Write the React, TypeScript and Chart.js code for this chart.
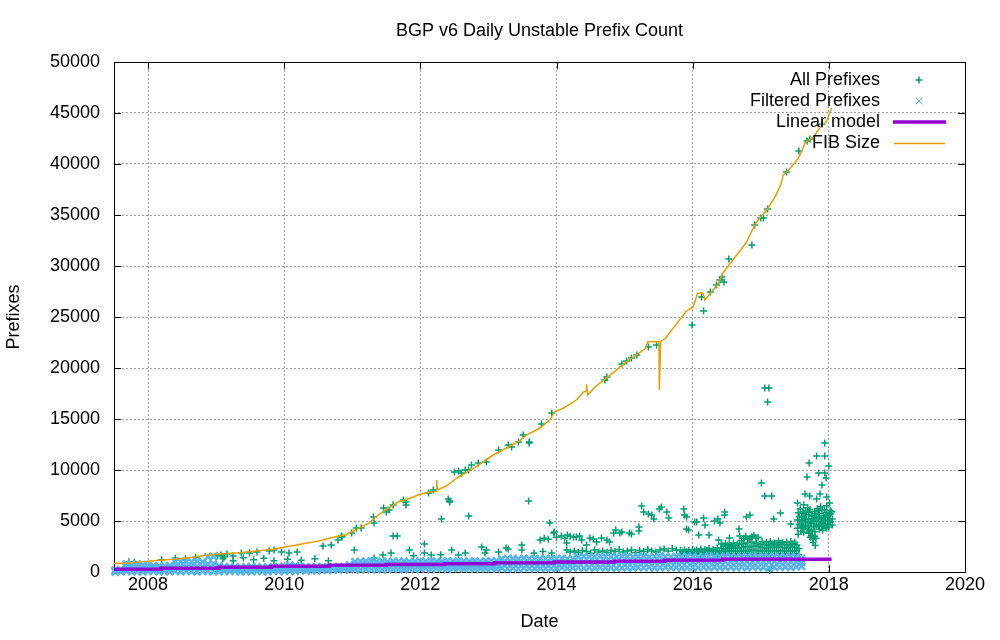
import React, { useEffect, useRef } from 'react';
import { Chart, registerables } from 'chart.js';

Chart.register(...registerables);

const FONT = '"Liberation Sans", Arial, sans-serif';

const chartTitle = 'BGP v6 Daily Unstable Prefix Count';
const xTitle = 'Date';
const yTitle = 'Prefixes';
const xTicks = [2008, 2010, 2012, 2014, 2016, 2018, 2020];
const yTicks = [0, 5000, 10000, 15000, 20000, 25000, 30000, 35000, 40000, 45000, 50000];
const legendLabels = ['All Prefixes', 'Filtered Prefixes', 'Linear model', 'FIB Size'];

// FIB size (orange line)
const fibDates = [2007.5, 2007.68, 2007.87, 2008.07, 2008.37, 2008.6, 2008.85, 2009.04, 2009.34, 2009.59, 2009.84, 2010.03, 2010.18, 2010.32, 2010.51, 2010.72, 2010.91, 2011.09, 2011.24, 2011.38, 2011.53, 2011.68, 2011.78, 2011.97, 2012.15, 2012.235, 2012.24, 2012.25, 2012.38, 2012.53, 2012.78, 2013.07, 2013.26, 2013.46, 2013.56, 2013.75, 2013.9, 2013.97, 2014.1, 2014.29, 2014.4, 2014.435, 2014.44, 2014.46, 2014.57, 2014.82, 2015.01, 2015.31, 2015.34, 2015.46, 2015.505, 2015.51, 2015.53, 2015.6, 2015.9, 2016.01, 2016.07, 2016.15, 2016.18, 2016.38, 2016.44, 2016.59, 2016.78, 2016.93, 2017.1, 2017.22, 2017.3, 2017.33, 2017.43, 2017.55, 2017.6, 2017.65, 2017.78, 2017.87, 2017.97, 2018.04];
const fibCounts = [850, 860, 980, 1110, 1245, 1400, 1640, 1765, 1890, 2060, 2230, 2480, 2650, 2810, 3040, 3400, 3660, 4280, 4770, 5590, 6250, 6890, 7060, 7550, 7870, 7900, 9020, 8040, 8430, 9190, 10170, 11470, 12130, 12870, 13430, 14090, 14900, 15720, 16050, 16860, 17680, 17700, 18430, 17350, 18170, 19480, 20520, 21930, 22580, 22580, 22600, 17840, 22600, 22910, 25520, 26010, 27320, 27380, 26670, 28300, 29280, 30590, 32230, 34250, 35590, 36900, 38070, 38920, 39560, 40560, 41230, 42060, 42720, 43550, 44220, 45500];

// Linear model (purple step line)
const modelDates = [2007.5, 2008.19, 2009.04, 2009.81, 2010.66, 2011.5, 2012.35, 2013.09, 2013.96, 2014.85, 2015.59, 2016.44, 2017.31, 2018.04];
const modelCounts = [170, 260, 360, 470, 560, 650, 740, 820, 900, 980, 1060, 1150, 1250, 1250];

// Filtered prefixes (light blue x), sampled days: low / mid / high values
const filteredDates = [
  2007.52, 2007.6, 2007.68, 2007.76, 2007.84, 2007.92,
  2008.0, 2008.08, 2008.16, 2008.24, 2008.32, 2008.4, 2008.48, 2008.56, 2008.64, 2008.72, 2008.8, 2008.88, 2008.96,
  2009.04, 2009.12, 2009.2, 2009.28, 2009.36, 2009.44, 2009.52, 2009.6, 2009.68, 2009.76, 2009.84, 2009.92,
  2010.0, 2010.08, 2010.16, 2010.24, 2010.32, 2010.4, 2010.48, 2010.56, 2010.64, 2010.72, 2010.8, 2010.88, 2010.96,
  2011.04, 2011.12, 2011.2, 2011.28, 2011.36, 2011.44, 2011.52, 2011.6, 2011.68, 2011.76, 2011.84, 2011.92,
  2012.0, 2012.08, 2012.16, 2012.24, 2012.32, 2012.4, 2012.48, 2012.56, 2012.64, 2012.72, 2012.8, 2012.88, 2012.96,
  2013.04, 2013.12, 2013.2, 2013.28, 2013.36, 2013.44, 2013.52, 2013.6, 2013.68, 2013.76, 2013.84, 2013.92,
  2014.0, 2014.08, 2014.16, 2014.24, 2014.32, 2014.4, 2014.48, 2014.56, 2014.64, 2014.72, 2014.8, 2014.88, 2014.96,
  2015.04, 2015.12, 2015.2, 2015.28, 2015.36, 2015.44, 2015.52, 2015.6, 2015.68, 2015.76, 2015.84, 2015.92,
  2016.0, 2016.08, 2016.16, 2016.24, 2016.32, 2016.4, 2016.48, 2016.56, 2016.64, 2016.72, 2016.8, 2016.88, 2016.96,
  2017.04, 2017.12, 2017.2, 2017.28, 2017.36, 2017.44, 2017.52, 2017.6,
];
const filteredLow = [
  0, 40, 80, 30, 60, 20,
  50, 90, 20, 70, 40, 100, 30, 80, 60, 10, 90, 50, 70,
  30, 80, 50, 100, 20, 70, 40, 90, 60, 30, 110, 50,
  80, 120, 60, 150, 100, 170, 130, 200, 150, 220, 180, 240, 200,
  260, 220, 290, 240, 270, 210, 300, 250, 280, 230, 310, 260,
  300, 340, 280, 320, 360, 290, 330, 370, 310, 350, 290, 340, 320,
  350, 310, 380, 340, 370, 320, 390, 350, 330, 380, 360, 340,
  380, 420, 360, 400, 440, 390, 430, 410, 450, 400, 430, 380, 420,
  430, 400, 450, 420, 460, 410, 440, 470, 420, 450, 400, 440,
  450, 420, 470, 440, 480, 430, 460, 490, 440, 470, 430, 480, 450,
  470, 440, 490, 460, 500, 450, 520, 560,
];
const filteredMid = [
  90, 140, 450, 430, 420, 370,
  340, 350, 320, 330, 340, 560, 530, 560, 540, 530, 560, 780, 800,
  320, 310, 280, 320, 260, 290, 300, 300, 270, 280, 310, 290,
  310, 400, 360, 340, 300, 350, 320, 370, 330, 350, 360, 380, 460,
  640, 650, 670, 660, 650, 640, 660, 670, 660, 650, 670, 660,
  690, 700, 680, 690, 710, 700, 690, 720, 690, 700, 690, 700, 700,
  720, 710, 840, 840, 850, 810, 870, 830, 830, 840, 850, 830,
  850, 880, 840, 870, 970, 960, 980, 960, 1000, 970, 960, 950, 980,
  970, 950, 990, 970, 980, 960, 990, 990, 960, 990, 960, 990,
  990, 960, 990, 990, 990, 970, 1000, 1010, 970, 990, 980, 1000, 990,
  990, 970, 1010, 990, 1000, 990, 990, 940,
];
const filteredHigh = [
  180, 240, 800, 820, 780, 700,
  620, 590, 610, 580, 630, 980, 1020, 1010, 990, 1040, 1000, 1480, 1520,
  600, 520, 480, 510, 470, 500, 530, 490, 460, 510, 480, 500,
  520, 660, 640, 520, 480, 510, 490, 530, 500, 470, 520, 500, 700,
  1000, 1050, 1030, 1060, 1020, 1040, 1010, 1060, 1030, 1050, 1020, 1040,
  1060, 1040, 1070, 1030, 1050, 1080, 1040, 1060, 1050, 1030, 1070, 1050, 1060,
  1080, 1100, 1290, 1320, 1310, 1280, 1330, 1300, 1310, 1290, 1320, 1300,
  1310, 1330, 1300, 1320, 1480, 1520, 1500, 1490, 1530, 1510, 1480, 1500, 1520,
  1500, 1490, 1520, 1510, 1480, 1500, 1530, 1500, 1490, 1510, 1500, 1520,
  1510, 1490, 1500, 1520, 1480, 1500, 1530, 1510, 1490, 1500, 1520, 1500, 1510,
  1500, 1490, 1520, 1500, 1480, 1510, 1450, 1300,
];

// All prefixes (green +)
const allNearFib: [number, number][] = [
  [2009.07, 1670], [2009.16, 1760], [2009.25, 1570], [2009.37, 1860], [2009.49, 1860], [2009.6, 1960], [2009.78, 2060], [2009.85, 2160], [2009.96, 1960], [2010.07, 1860], [2010.19, 1960], [2010.57, 2550], [2010.69, 2650], [2010.79, 3140], [2010.85, 3430], [2010.84, 3530], [2010.99, 3820], [2011.06, 4310], [2011.13, 4310], [2011.31, 5390], [2011.32, 4800], [2011.46, 6270], [2011.5, 5880], [2011.54, 6080], [2011.6, 6570], [2011.75, 7060], [2011.79, 6860], [2011.79, 6570],
  [2012.12, 7750], [2012.19, 8040], [2012.41, 7160], [2012.43, 6860], [2012.5, 9800], [2012.56, 9900], [2012.6, 9710], [2012.66, 10000], [2012.71, 10000], [2012.75, 10490], [2012.85, 10690], [2012.97, 10780], [2013.15, 11960], [2013.29, 12450], [2013.34, 12250], [2013.44, 12750], [2013.51, 13430], [2013.6, 12750], [2013.6, 12650], [2013.78, 14510], [2013.93, 15590],
  [2014.71, 18820], [2014.74, 19120], [2014.96, 20390], [2015.03, 20690], [2015.1, 20980], [2015.18, 21270], [2015.35, 22060], [2015.47, 22250], [2015.99, 24220], [2016.16, 25590], [2016.13, 26960], [2016.26, 27450], [2016.35, 28140], [2016.4, 28630], [2016.43, 28920], [2016.46, 28430], [2016.53, 30690], [2016.87, 32060], [2016.91, 34020], [2017.0, 34710], [2017.04, 34710], [2017.1, 35590], [2017.38, 39220], [2017.56, 41270], [2017.68, 42250], [2017.72, 42450], [2017.9, 43920],
];
const allScattered: [number, number][] = [
  [2011.03, 2160], [2011.6, 3530], [2011.66, 3530], [2011.84, 2160], [2012.06, 2750], [2012.31, 5200], [2012.43, 6960], [2012.71, 5490], [2013.59, 6960], [2013.9, 4800], [2013.96, 3820], [2013.97, 3920], [2013.76, 3140],
  [2013.82, 3300], [2013.88, 3200], [2014.0, 3400], [2014.12, 3300], [2014.2, 3500],
  [2014.07, 3530], [2014.16, 3630], [2014.25, 3430], [2014.34, 3530], [2014.15, 2840], [2014.15, 2160], [2014.29, 3430], [2014.37, 3140], [2014.44, 2650], [2014.49, 3330], [2014.54, 3240], [2014.59, 2940], [2014.66, 3330], [2014.74, 3140], [2014.78, 2940], [2014.84, 3820], [2014.87, 4120], [2014.93, 3820], [2014.96, 3920], [2015.07, 3820], [2015.1, 3730], [2015.21, 4410], [2015.21, 4020],
  [2015.25, 6470], [2015.28, 5880], [2015.35, 5690], [2015.4, 5590], [2015.43, 5200], [2015.51, 6180], [2015.54, 6370], [2015.62, 5880], [2015.65, 5290], [2015.87, 6180], [2015.88, 5590], [2015.91, 5390], [2015.91, 4220], [2015.94, 4120], [2016.03, 4900], [2016.06, 4900], [2016.09, 3630], [2016.16, 5290], [2016.18, 4610], [2016.32, 5000], [2016.37, 5200], [2016.4, 4800], [2016.47, 5880], [2016.47, 5590], [2016.68, 4220], [2016.79, 5390], [2016.84, 5590],
  [2017.01, 8730], [2017.06, 7450], [2017.16, 7450], [2017.29, 5780], [2017.19, 5200], [2017.44, 4710], [2017.06, 18040], [2017.12, 18040], [2017.1, 16670], [2016.24, 3630], [2016.38, 3140], [2016.54, 3330], [2016.69, 3530], [2017.13, 150], [2017.16, 320],
];
const allLowBand: [number, number][] = [
  [2007.72, 1000], [2007.8, 950], [2008.2, 1200], [2008.4, 1350], [2008.55, 1300], [2008.7, 1450], [2009.02, 1600], [2009.12, 1500], [2009.1, 1300], [2009.25, 1100], [2009.4, 1400], [2009.55, 1200], [2009.7, 1350], [2009.85, 1100], [2010.05, 1250], [2010.25, 1150], [2010.45, 1300], [2010.65, 1100],
  [2011.32, 1370], [2011.45, 1670], [2011.57, 1860], [2011.9, 1600], [2012.06, 1860], [2012.16, 1670], [2012.3, 1700], [2012.46, 2160], [2012.56, 1670], [2012.66, 1860], [2012.9, 2450], [2012.95, 1860], [2012.97, 2160], [2013.15, 1960], [2013.26, 2350], [2013.29, 2260], [2013.49, 2650], [2013.49, 2160], [2013.67, 1860], [2013.8, 2000], [2013.93, 1860],
];
const allBand: [number, number][] = [
  [2014.2, 1950], [2014.26, 2050], [2014.32, 1900], [2014.38, 2100], [2014.44, 2000], [2014.5, 1850], [2014.56, 2150], [2014.62, 1950], [2014.68, 2050], [2014.74, 1900], [2014.8, 2100], [2014.86, 2000], [2014.92, 2200], [2014.98, 1950], [2015.04, 2050], [2015.1, 2150], [2015.16, 1900], [2015.22, 2100], [2015.28, 2000], [2015.34, 2200], [2015.4, 2050], [2015.46, 1950], [2015.52, 2150], [2015.58, 2250], [2015.64, 2050], [2015.7, 2300], [2015.76, 2150],
  [2015.82, 1750], [2015.82, 2100], [2015.88, 1800], [2015.88, 2150], [2015.94, 1700], [2015.94, 2100], [2016.0, 1750], [2016.0, 2200], [2016.06, 1800], [2016.06, 2150], [2016.12, 1700], [2016.12, 2250], [2016.18, 1750], [2016.18, 2200], [2016.24, 1800], [2016.24, 2300], [2016.3, 1700], [2016.3, 2200], [2016.36, 1750], [2016.36, 2350],
  [2016.42, 1800], [2016.42, 2300], [2016.42, 2750], [2016.48, 1700], [2016.48, 2250], [2016.48, 2800], [2016.54, 1750], [2016.54, 2350], [2016.54, 2700], [2016.6, 1800], [2016.6, 2300], [2016.6, 2850], [2016.66, 1700], [2016.66, 2350], [2016.66, 2750],
  [2016.72, 1750], [2016.72, 2400], [2016.72, 3100], [2016.78, 1800], [2016.78, 2500], [2016.78, 3500], [2016.84, 1700], [2016.84, 2450], [2016.84, 3300], [2016.9, 1750], [2016.9, 2550], [2016.9, 3600], [2016.96, 1800], [2016.96, 2500], [2016.96, 3400],
  [2017.02, 1700], [2017.02, 2400], [2017.02, 3000], [2017.08, 1750], [2017.08, 2350], [2017.08, 2900], [2017.14, 1800], [2017.14, 2450], [2017.14, 3000], [2017.2, 1700], [2017.2, 2400], [2017.2, 2850], [2017.26, 1750], [2017.26, 2450], [2017.26, 3050],
  [2017.32, 1800], [2017.32, 2400], [2017.32, 2900], [2017.38, 1700], [2017.38, 2350], [2017.38, 2950], [2017.44, 1750], [2017.44, 2450], [2017.44, 3000], [2017.5, 1800], [2017.5, 2400], [2017.5, 2900], [2017.56, 1700], [2017.56, 2300],
];
const allBandFill: [number, number][] = [
  [2015.85, 1950], [2015.91, 2000], [2015.97, 1900], [2016.03, 2050], [2016.09, 2000], [2016.15, 1950], [2016.21, 2100], [2016.27, 2000], [2016.33, 2050], [2016.39, 1950],
  [2016.45, 2050], [2016.45, 2550], [2016.51, 2000], [2016.51, 2600], [2016.57, 2100], [2016.57, 2500], [2016.63, 2000], [2016.63, 2600], [2016.69, 2050], [2016.69, 2700],
  [2016.75, 2100], [2016.75, 2800], [2016.75, 3300], [2016.81, 2050], [2016.81, 2900], [2016.81, 3200], [2016.87, 2150], [2016.87, 2950], [2016.87, 3450], [2016.93, 2100], [2016.93, 2850], [2016.93, 3300],
  [2016.99, 2050], [2016.99, 2700], [2017.05, 2100], [2017.05, 2700], [2017.11, 2050], [2017.11, 2650], [2017.17, 2100], [2017.17, 2750], [2017.23, 2050], [2017.23, 2650], [2017.29, 2100], [2017.29, 2750],
  [2017.35, 2050], [2017.35, 2700], [2017.41, 2100], [2017.41, 2650], [2017.47, 2050], [2017.47, 2750], [2017.53, 2100], [2017.53, 2650],
];
const allLateCluster: [number, number][] = [
  [2017.94, 12650], [2017.82, 11370], [2017.94, 11370], [2017.71, 10690], [2018.0, 10390], [2017.68, 9310], [2017.85, 9710], [2017.94, 9710], [2017.9, 8530], [2017.96, 9220], [2017.65, 7650], [2017.72, 7450], [2017.82, 7160], [2017.87, 7650], [2017.97, 7350], [2018.01, 6760], [2017.54, 6760],
  [2017.54, 4300], [2017.54, 5100], [2017.55, 5800], [2017.55, 3700], [2017.59, 4000], [2017.59, 4700], [2017.6, 5400], [2017.58, 6200], [2017.63, 3900], [2017.63, 4500], [2017.64, 5200], [2017.62, 5900], [2017.63, 6600],
  [2017.68, 4200], [2017.68, 4900], [2017.67, 5600], [2017.69, 6300], [2017.73, 3400], [2017.72, 4100], [2017.73, 4800], [2017.74, 5500], [2017.72, 6100], [2017.77, 2900], [2017.76, 3600], [2017.78, 4400], [2017.77, 5200], [2017.79, 5900],
  [2017.8, 2600], [2017.81, 3300], [2017.82, 4600], [2017.82, 5400], [2017.83, 6200], [2017.86, 4200], [2017.87, 4900], [2017.86, 5700], [2017.88, 6400], [2017.91, 4100], [2017.91, 4800], [2017.92, 5500], [2017.9, 6100],
  [2017.96, 4300], [2017.95, 5000], [2017.96, 5800], [2017.97, 6500], [2018.0, 4400], [2018.01, 5100], [2018.0, 5600], [2018.02, 6000], [2018.05, 4600], [2018.05, 5200], [2018.04, 5900],
];
const allLateFill: [number, number][] = [
  [2017.565, 4650], [2017.565, 5450], [2017.61, 4350], [2017.61, 5050], [2017.61, 5750], [2017.655, 4550], [2017.655, 5250], [2017.655, 5950], [2017.705, 3800], [2017.705, 4500], [2017.705, 5200], [2017.705, 5850],
  [2017.75, 4000], [2017.75, 4750], [2017.75, 5550], [2017.795, 3950], [2017.795, 5000], [2017.795, 5700], [2017.845, 4500], [2017.845, 5300], [2017.845, 6000], [2017.89, 4450], [2017.89, 5200],
  [2017.935, 4600], [2017.935, 5350], [2017.935, 6100], [2017.98, 4700], [2017.98, 5450], [2018.025, 4900], [2018.025, 5700], [2017.76, 3200], [2017.79, 3500],
];

const GREEN = '#009e73';
const BLUE = '#56b4e9';
const PURPLE = '#9400d3';
const ORANGE = '#e69f00';

const gnuplotDecor = {
  id: 'gnuplotDecor',
  beforeDatasetsDraw(chart: any) {
    const { ctx, chartArea: a, scales } = chart;
    ctx.save();
    ctx.strokeStyle = '#000';
    ctx.lineWidth = 1;
    ctx.setLineDash([]);
    const L = 7;
    ctx.beginPath();
    for (const v of yTicks) {
      const y = Math.round(scales.y.getPixelForValue(v)) + 0.5;
      ctx.moveTo(a.left, y); ctx.lineTo(a.left + L, y);
      ctx.moveTo(a.right, y); ctx.lineTo(a.right - L, y);
    }
    for (const v of xTicks) {
      const x = Math.round(scales.x.getPixelForValue(v)) + 0.5;
      ctx.moveTo(x, a.bottom); ctx.lineTo(x, a.bottom - L);
      ctx.moveTo(x, a.top); ctx.lineTo(x, a.top + L);
    }
    ctx.stroke();
    ctx.strokeRect(Math.round(a.left) + 0.5, Math.round(a.top) + 0.5, Math.round(a.right - a.left), Math.round(a.bottom - a.top));
    ctx.restore();
  },
  afterDraw(chart: any) {
    const { ctx, chartArea: a } = chart;
    ctx.save();
    ctx.fillStyle = '#000';
    ctx.font = `18px ${FONT}`;
    ctx.textAlign = 'center';
    ctx.textBaseline = 'middle';
    ctx.fillText(chartTitle, (a.left + a.right) / 2, 31);
    // legend
    const rows = [80, 101, 122, 143];
    ctx.textAlign = 'right';
    legendLabels.forEach((t, i) => ctx.fillText(t, 880, rows[i]));
    ctx.lineWidth = 1.4;
    ctx.strokeStyle = GREEN;
    ctx.beginPath();
    ctx.moveTo(915.5, rows[0]); ctx.lineTo(922.5, rows[0]);
    ctx.moveTo(919, rows[0] - 3.5); ctx.lineTo(919, rows[0] + 3.5);
    ctx.stroke();
    ctx.lineWidth = 1;
    ctx.strokeStyle = BLUE;
    ctx.beginPath();
    ctx.moveTo(915.7, rows[1] - 3.3); ctx.lineTo(922.3, rows[1] + 3.3);
    ctx.moveTo(922.3, rows[1] - 3.3); ctx.lineTo(915.7, rows[1] + 3.3);
    ctx.stroke();
    ctx.strokeStyle = PURPLE;
    ctx.lineWidth = 3.5;
    ctx.beginPath(); ctx.moveTo(893, rows[2]); ctx.lineTo(946, rows[2]); ctx.stroke();
    ctx.strokeStyle = ORANGE;
    ctx.lineWidth = 1.5;
    ctx.beginPath(); ctx.moveTo(894, rows[3] + 0.5); ctx.lineTo(945, rows[3] + 0.5); ctx.stroke();
    ctx.restore();
  },
};

export default function App() {
  const ref = useRef<HTMLCanvasElement | null>(null);
  useEffect(() => {
    document.body.style.margin = '0';
    const toPts = (arr: [number, number][]) => arr.map(([x, y]) => ({ x, y }));
    const allData = [...toPts(allLowBand), ...toPts(allBand), ...toPts(allBandFill), ...toPts(allScattered), ...toPts(allNearFib), ...toPts(allLateCluster), ...toPts(allLateFill)];
    const filteredData = filteredDates.flatMap((d, i) => [
      { x: d, y: filteredLow[i] },
      { x: d, y: filteredMid[i] },
      { x: d, y: filteredHigh[i] },
    ]);
    const modelData = modelDates.map((x, i) => ({ x, y: modelCounts[i] }));
    const fibData = fibDates.map((x, i) => ({ x, y: fibCounts[i] }));
    const tickFont = { family: FONT, size: 18 };
    const chart = new Chart(ref.current as HTMLCanvasElement, {
      type: 'scatter',
      data: {
        datasets: [
          { label: legendLabels[0], data: allData, pointStyle: 'cross', pointRadius: 3.5, borderColor: GREEN, backgroundColor: GREEN, borderWidth: 1.5, order: 4, clip: false } as any,
          { label: legendLabels[1], data: filteredData, pointStyle: 'crossRot', pointRadius: 5, borderColor: BLUE, backgroundColor: BLUE, borderWidth: 2.4, order: 3, clip: false } as any,
          { label: legendLabels[2], data: modelData, showLine: true, stepped: 'after', pointRadius: 0, borderColor: PURPLE, borderWidth: 3.5, order: 2 } as any,
          { label: legendLabels[3], data: fibData, showLine: true, pointRadius: 0, borderColor: ORANGE, borderWidth: 1.5, tension: 0, order: 1 } as any,
        ],
      },
      options: {
        responsive: false,
        animation: false,
        events: [],
        layout: { padding: { top: 62, right: 35, bottom: 0, left: 0 } },
        plugins: { legend: { display: false }, tooltip: { enabled: false }, title: { display: false } },
        scales: {
          x: {
            type: 'linear',
            min: 2007.5,
            max: 2020,
            afterBuildTicks: (s: any) => { s.ticks = xTicks.map((value) => ({ value })); },
            afterFit: (s: any) => { s.height = 68; },
            ticks: { callback: (v: any) => String(v), font: tickFont, color: '#000', padding: 2, maxRotation: 0, autoSkip: false },
            grid: { color: '#a0a0a0', lineWidth: 1, drawTicks: false },
            border: { display: false, dash: [2, 2] },
            title: { display: true, text: xTitle, font: tickFont, color: '#000', padding: { top: 0, bottom: 7 } },
          },
          y: {
            type: 'linear',
            min: 0,
            max: 50000,
            afterBuildTicks: (s: any) => { s.ticks = yTicks.map((value) => ({ value })); },
            afterFit: (s: any) => { s.width = 114; },
            ticks: { callback: (v: any) => String(v), font: tickFont, color: '#000', padding: 14, autoSkip: false },
            grid: { color: '#a0a0a0', lineWidth: 1, drawTicks: false },
            border: { display: false, dash: [2, 2] },
            title: { display: true, text: yTitle, font: tickFont, color: '#000', padding: { top: 3, bottom: 0 } },
          },
        },
      } as any,
      plugins: [gnuplotDecor],
    });
    return () => chart.destroy();
  }, []);
  return (
    <div style={{ width: 1000, height: 640 }}>
      <canvas ref={ref} width={1000} height={640} style={{ display: 'block' }} />
    </div>
  );
}
